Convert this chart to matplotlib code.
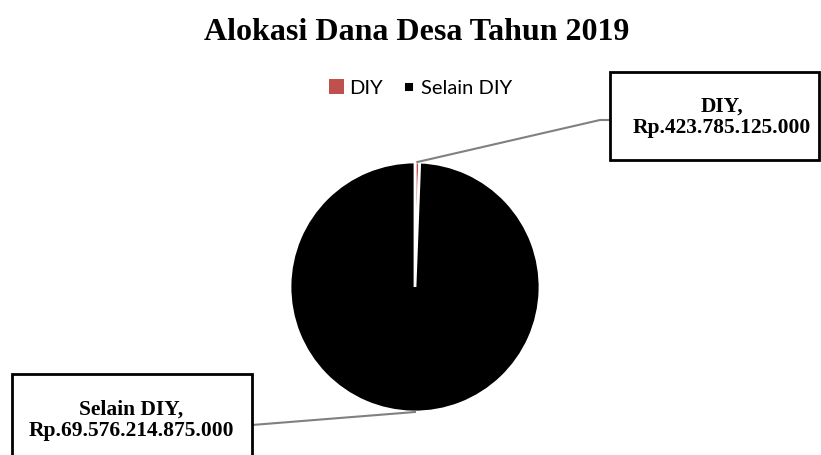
import numpy as np
import matplotlib
matplotlib.use('Agg')
import matplotlib.pyplot as plt
from matplotlib.patches import Rectangle, Patch

# data
labels = ['DIY', 'Selain DIY']
values = [423785125000, 69576214875000]
value_text = ['Rp.423.785.125.000', 'Rp.69.576.214.875.000']
colors = ['#c0504d', '#000000']


def main():
    W, H = 821, 455
    fig = plt.figure(figsize=(W / 100, H / 100), dpi=100)
    ax = fig.add_axes([0, 0, 1, 1])

    cx, cy, r = 415, H - 287, 125
    wedges, _ = ax.pie(values, colors=colors, startangle=90, counterclock=False,
                       center=(cx, cy), radius=r, frame=True,
                       wedgeprops=dict(edgecolor='white', linewidth=2))
    ax.set_xlim(0, W)
    ax.set_ylim(0, H)
    ax.set_aspect('equal')
    ax.axis('off')

    fig.text(0.508, 1 - 33 / H, 'Alokasi Dana Desa Tahun 2019', ha='center', va='center',
             family='Liberation Serif', fontweight='bold', fontsize=23)

    # legend markers: red square, black square with a wide white border
    handles = [Patch(facecolor=colors[0], edgecolor=colors[0], linewidth=0),
               Patch(facecolor=colors[1], edgecolor='white', linewidth=5)]
    fig.legend(handles, labels, loc='center', bbox_to_anchor=(0.512, 1 - 88 / H), ncol=2,
               frameon=False, prop=dict(family='Lato', size=14.5), handlelength=0.75,
               handleheight=0.75, handletextpad=0.25, columnspacing=0.9)

    # label boxes: (x0, y0 top, width, height) in pixels, and leader elbow points
    boxes = [(610, 72, 209, 88), (12, 374, 240, 90)]
    text_xy = [(722, 117), (131, 420)]
    elbows = [[(600, 120), (610, 120)], [(252, 425)]]
    for i, w in enumerate(wedges):
        x0, ytop, bw, bh = boxes[i]
        ax.add_patch(Rectangle((x0, H - ytop - bh), bw, bh, facecolor='white',
                               edgecolor='black', linewidth=2, zorder=3))
        tx, ty = text_xy[i]
        ax.text(tx, H - ty, f'{labels[i]},\n{value_text[i]}', ha='center', va='center',
                family='Liberation Serif', fontweight='bold', fontsize=15.5,
                linespacing=1.12, zorder=4)
        if i == 0:
            ang = np.deg2rad((w.theta1 + w.theta2) / 2)
        else:
            ang = np.deg2rad(-90)
        px, py = cx + r * np.cos(ang), cy + r * np.sin(ang)
        pts = [(px, py)] + [(x, H - y) for x, y in elbows[i]]
        xs, ys = zip(*pts)
        ax.plot(xs, ys, color='#808080', linewidth=1.5, zorder=2)

    fig.savefig('out.png', dpi=100)


if __name__ == '__main__':
    main()
